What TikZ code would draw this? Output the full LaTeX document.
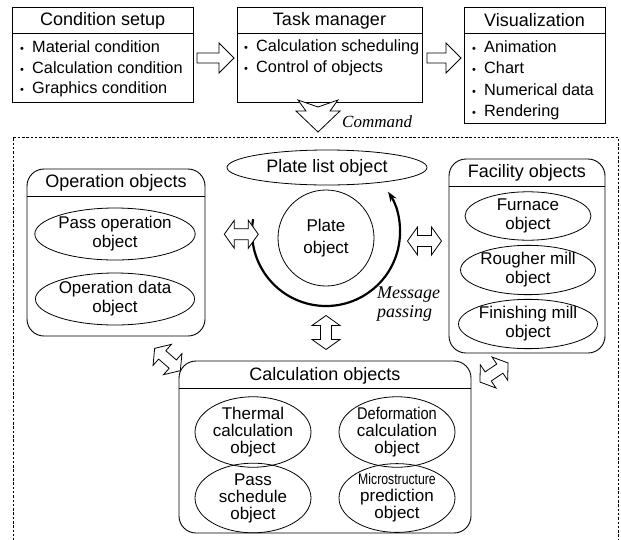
\documentclass[tikz,border=0pt]{standalone}
\usepackage{fontspec}
\setmainfont{Liberation Sans}
\newfontfamily\serifit{Liberation Serif}
\usetikzlibrary{arrows.meta,shapes.geometric,calc}
\newcommand\fsz[2]{\fontsize{#1}{#2}\selectfont}
\newcommand\bul{\makebox[12pt][l]{\fsz{11}{11}•}}
\tikzset{
  sqbox/.style={draw, line width=0.9pt, inner sep=0pt, outer sep=0pt, anchor=north west},
  rbox/.style={sqbox, rounded corners=17pt},
  obj/.style={draw, ellipse, line width=0.8pt, inner sep=0pt, align=center, font=\fsz{17}{19}},
  title/.style={font=\fsz{18}{20}, inner sep=0pt},
  item/.style={font=\fsz{16.3}{19}, inner sep=0pt, anchor=west},
  hollow/.style={draw, line width=0.8pt, fill=white, line join=miter},
  note/.style={font=\serifit\itshape\fsz{17}{19}, inner sep=0pt, align=left},
  pics/sarrow/.style={code={
    \draw[hollow] (0,-5) -- (#1-15,-5) -- (#1-15,-15) -- (#1,0) -- (#1-15,15) -- (#1-15,5) -- (0,5) -- cycle;}},
  pics/darrow/.style={code={
    \draw[hollow] (-17,0) -- (-7,-14) -- (-7,-5.5) -- (7,-5.5) -- (7,-14) -- (17,0)
      -- (7,14) -- (7,5.5) -- (-7,5.5) -- (-7,14) -- cycle;}},
}
\begin{document}
\begin{tikzpicture}[x=1pt,y=-1pt]
\useasboundingbox (0,0) rectangle (621,539);
\fill[white] (0,0) rectangle (621,539);

% ---- top row: condition setup, task manager, visualization
\node[sqbox, minimum width=180.5, minimum height=95] (cond) at (12.5,7) {};
\draw[line width=0.8pt] (12.5,33) -- (193,33);
\node[title] (condT) at (102.75,20.5) {Condition setup};
\node[item] (c1) at (20,47) {\bul Material condition};
\node[item] (c2) at (20,68) {\bul Calculation condition};
\node[item] (c3) at (20,89) {\bul Graphics condition};

\node[sqbox, minimum width=185, minimum height=95] (task) at (237,7) {};
\draw[line width=0.8pt] (237,33) -- (422,33);
\node[title] (taskT) at (329.5,20.5) {Task manager};
\node[item] (t1) at (244,47) {\bul Calculation scheduling};
\node[item] (t2) at (244,68) {\bul Control of objects};

\node[sqbox, minimum width=141, minimum height=116] (vis) at (464,7) {};
\draw[line width=0.8pt] (464,33) -- (605,33);
\node[title] (visT) at (534.5,20.5) {Visualization};
\node[item] (v1) at (472,47) {\bul Animation};
\node[item] (v2) at (472,68) {\bul Chart};
\node[item] (v3) at (472,90) {\bul Numerical data};
\node[item] (v4) at (472,112) {\bul Rendering};

% hollow arrows between the top boxes
\pic at ($(cond.east)+(4,3.5)$) {sarrow=37};
\pic at ($(task.east)+(5,3.5)$) {sarrow=34};

% command arrow below the task manager
\coordinate (cmd) at (318,100);
\draw[hollow] ($(cmd)+(-20,0)$) -- ($(cmd)+(0,7)$) -- ($(cmd)+(20,0)$) -- ($(cmd)+(12,11)$)
  -- ($(cmd)+(22,11)$) -- ($(cmd)+(0,32)$) -- ($(cmd)+(-22,11)$) -- ($(cmd)+(-12,11)$) -- cycle;
\node[note, anchor=west] (cmdT) at (342,122) {Command};

% ---- dashed frame of the object layer
\draw[line width=0.7pt, dash pattern=on 2.5pt off 1.8pt] (13,545) -- (13,137) -- (618,137) -- (618,545);

% plate list and plate objects
\node[draw, ellipse, line width=0.8pt, minimum width=200, minimum height=35, inner sep=0pt,
      font=\fsz{18}{20}] (plist) at (327,167.5) {Plate list object};
\node[draw, circle, line width=0.8pt, minimum size=96, inner sep=0pt, align=center,
      font=\fsz{17}{22}] (plate) at (326,238) {Plate\\object};
\coordinate (mc) at (326,232);
\draw[line width=2.2pt, -{Stealth[length=10pt,width=7pt]}]
  ([shift={(190:74)}]mc) arc[start angle=190, end angle=-33, radius=74];
\node[note, anchor=north west, font=\serifit\itshape\fsz{18}{19}] (msg) at (377,287) {Message\\passing};

% operation objects
\node[rbox, minimum width=178, minimum height=167] (op) at (27,169) {};
\draw[line width=0.8pt] (27,196) -- (205,196);
\node[title] (opT) at (116,183) {Operation objects};
\node[obj, minimum width=140, minimum height=52] (passop) at (115,234) {Pass operation\\object};
\node[obj, minimum width=140, minimum height=52] (opdata) at (115,299) {Operation data\\object};

% facility objects
\node[rbox, minimum width=156, minimum height=194] (fac) at (449,159) {};
\draw[line width=0.8pt] (449,186) -- (605,186);
\node[title] (facT) at (527,173) {Facility objects};
\node[obj, minimum width=126, minimum height=46] (furn) at (528,216) {Furnace\\object};
\node[obj, minimum width=126, minimum height=46] (rough) at (528,270) {Rougher mill\\object};
\node[obj, minimum width=126, minimum height=46] (finish) at (528,324) {Finishing mill\\object};

% calculation objects
\node[rbox, minimum width=292, minimum height=172] (calc) at (179,361) {};
\draw[line width=0.8pt] (179,388) -- (471,388);
\node[title] (calcT) at (325,376) {Calculation objects};
\node[obj, minimum width=116, minimum height=53, font=\fsz{17}{17}] (therm) at (253,432) {Thermal\\calculation\\object};
\node[obj, minimum width=116, minimum height=53, font=\fsz{17}{17}] (deform) at (397,432) {\scalebox{0.86}[1]{Deformation}\\calculation\\object};
\node[obj, minimum width=116, minimum height=56, font=\fsz{17}{17}] (sched) at (253,498) {Pass\\schedule\\object};
\node[obj, minimum width=116, minimum height=56, font=\fsz{17}{17}] (micro) at (397,498) {\scalebox{0.72}[0.9]{Microstructure}\\prediction\\object};

% hollow double arrows between the object groups
\pic at ($(op.east)!0.5!(plate.west)+(0,-11)$) {darrow};
\pic at (424.5,241) {darrow};
\pic[rotate=90] at (326,332.5) {darrow};
\pic[rotate=-41] at (167.5,359.5) {darrow};
\pic[rotate=34] at (494,372.5) {darrow};
\end{tikzpicture}
\end{document}
